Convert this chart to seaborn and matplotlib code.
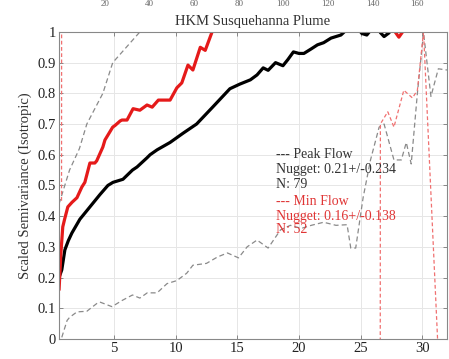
import numpy as np
import pandas as pd
import matplotlib
matplotlib.use("Agg")
import matplotlib.pyplot as plt
import seaborn as sns

# ---- data ----
peak_x = [0.55, 0.77, 1.02, 1.3, 1.59, 2.24, 3.05, 3.86, 4.51, 4.92, 5.73, 6.5, 6.87, 7.68, 7.93,
          8.5, 9.55, 10.6, 11.7, 13.0, 14.4, 15.2, 16.06, 16.6, 17.1, 17.5, 18.1, 18.7, 19.1, 19.55,
          20.0, 20.4, 21.0, 21.5, 22.0, 22.6, 23.4, 23.8, 24.3, 24.8, 25.1, 25.5, 25.9, 26.3, 26.6,
          26.9, 27.3, 27.6, 28.2]
peak_y = [0.20, 0.225, 0.29, 0.32, 0.345, 0.39, 0.43, 0.47, 0.50, 0.51, 0.52, 0.55, 0.56, 0.59, 0.60,
          0.616, 0.64, 0.67, 0.70, 0.755, 0.815, 0.83, 0.844, 0.86, 0.883, 0.875, 0.90, 0.89, 0.91, 0.935,
          0.93, 0.93, 0.945, 0.958, 0.965, 0.98, 0.99, 1.005, 1.02, 1.01, 0.995, 0.99, 1.01, 1.02, 0.998,
          0.985, 0.997, 1.02, 1.03]

min_x = [0.55, 0.7, 0.85, 1.0, 1.26, 1.6, 2.0, 2.4, 2.64, 3.05, 3.45, 3.6, 4.1, 4.27, 4.9, 5.08, 5.5,
         5.65, 6.06, 6.55, 7.1, 7.68, 8.1, 8.6, 9.55, 10.1, 10.5, 11.0, 11.4, 12.0, 12.4, 13.0, 13.5,
         20.0, 27.5, 27.8, 28.1, 28.4, 28.8, 32.0]
min_y = [0.16, 0.28, 0.365, 0.39, 0.43, 0.445, 0.46, 0.495, 0.51, 0.573, 0.573, 0.58, 0.625, 0.648,
         0.69, 0.695, 0.71, 0.713, 0.713, 0.75, 0.745, 0.762, 0.755, 0.778, 0.778, 0.818, 0.834, 0.892,
         0.876, 0.95, 0.94, 1.005, 1.05, 1.10, 1.05, 1.0, 0.983, 1.0, 1.05, 1.10]

peak_up_x = [0.55, 1.4, 2.2, 2.8, 4.1, 4.9, 7.1, 8.0]
peak_up_y = [0.44, 0.55, 0.62, 0.70, 0.80, 0.90, 1.0, 1.05]

peak_lo_x = [0.77, 1.2, 1.4, 2.0, 2.8, 3.6, 3.86, 4.84, 5.65, 6.5, 7.1, 7.7, 8.5, 9.3, 10.1, 10.9,
             11.4, 12.5, 13.4, 14.2, 15.1, 15.8, 16.6, 17.5, 18.5, 19.3, 20.2, 21.0, 22.0, 23.0, 23.9,
             24.2, 24.6, 25.2, 25.8, 26.5, 26.9, 27.7, 28.3, 28.7, 29.1, 29.6, 30.1, 30.7, 31.3, 32.0]
peak_lo_y = [0.005, 0.06, 0.07, 0.088, 0.09, 0.115, 0.12, 0.105, 0.125, 0.143, 0.133, 0.15, 0.15,
             0.18, 0.19, 0.214, 0.24, 0.246, 0.267, 0.28, 0.264, 0.30, 0.322, 0.296, 0.355, 0.37, 0.36,
             0.37, 0.38, 0.37, 0.372, 0.296, 0.296, 0.46, 0.583, 0.69, 0.70, 0.583, 0.583, 0.64, 0.57,
             0.80, 0.997, 0.79, 0.88, 0.876]

min_up_x = [0.75, 0.78]
min_up_y = [0.45, 3.0]

min_lo_x = [26.55, 26.6, 27.2, 27.7, 28.5, 29.2, 29.6, 30.1, 31.35, 31.5]
min_lo_y = [-3.0, 0.70, 0.74, 0.69, 0.81, 0.785, 0.81, 1.0, -0.1, -3.0]

yticks = [0, 0.1, 0.2, 0.3, 0.4, 0.5, 0.6, 0.7, 0.8, 0.9, 1]
ytick_labels = ["0", "0.1", "0.2", "0.3", "0.4", "0.5", "0.6", "0.7", "0.8", "0.9", "1"]
xticks = [5, 10, 15, 20, 25, 30]
top_cut_labels = ["20", "40", "60", "80", "100", "120", "140", "160"]

title = "HKM Susquehanna Plume"
ylabel = "Scaled Semivariance (Isotropic)"
peak_text = ["--- Peak Flow", "Nugget: 0.21+/-0.234", "N: 79"]
min_text = ["--- Min Flow", "Nugget: 0.16+/-0.138", "N: 52"]

# ---- style ----
sns.set_theme(style="white")
plt.rcParams["font.family"] = ["Liberation Serif", "DejaVu Serif"]
plt.rcParams["xtick.direction"] = "in"
plt.rcParams["ytick.direction"] = "in"

fig = plt.figure(figsize=(4.49, 3.59), dpi=100)
ax = fig.add_axes([0.131, 0.056, 0.8645, 0.855])

grey = "#8a8a8a"
pink = "#f07070"
red = "#e51a1a"

def line(x, y, **kw):
    df = pd.DataFrame({"x": x, "y": y})
    sns.lineplot(data=df, x="x", y="y", ax=ax, estimator=None, sort=False, **kw)

line(peak_up_x, peak_up_y, color=grey, lw=0.9, dashes=(4, 2.5))
line(peak_lo_x, peak_lo_y, color=grey, lw=0.9, dashes=(4, 2.5))
line(min_up_x, min_up_y, color=pink, lw=0.9, dashes=(3, 2))
line(min_lo_x, min_lo_y, color=pink, lw=0.9, dashes=(3, 2))
line(peak_x, peak_y, color="black", lw=2.3)
line(min_x, min_y, color=red, lw=2.3)

ax.set_xlim(0.53, 32.0)
ax.set_ylim(0, 1)
ax.set_xticks(xticks)
ax.set_xticklabels([str(t) for t in xticks], fontsize=10.5, color="#222222")
ax.set_yticks(yticks)
ax.set_yticklabels(ytick_labels, fontsize=10.5, color="#222222")
ax.tick_params(axis="both", which="both", length=3, width=0.6, color="#777777",
               top=True, right=True, bottom=True, left=True, pad=2)
ax.grid(True, color="#e6e6e6", lw=0.7)
ax.set_axisbelow(True)
for s in ax.spines.values():
    s.set_color("#888888")
    s.set_linewidth(0.8)
ax.set_xlabel("")
ax.set_ylabel(ylabel, fontsize=10.5, color="#333333", labelpad=4)
ax.set_title(title, fontsize=10.5, color="#333333", pad=5)

# annotation texts
ys_peak = [0.600, 0.551, 0.502]
ys_min = [0.447, 0.398, 0.355]
for t, yy in zip(peak_text, ys_peak):
    ax.text(18.1, yy, t, fontsize=10, color="#333333", va="center", ha="left")
for t, yy in zip(min_text, ys_min):
    ax.text(18.1, yy, t, fontsize=10, color="#e03535", va="center", ha="left")

# tick labels of the panel above (cut off in the reference), kept small and inside
for i, t in enumerate(top_cut_labels):
    px = 105 + i * 44.6
    fig.text(px / 449, 1.0 - 0.5 / 359, t, fontsize=6.5, color="#666666",
             ha="center", va="top")

fig.savefig("out.png", dpi=100)
